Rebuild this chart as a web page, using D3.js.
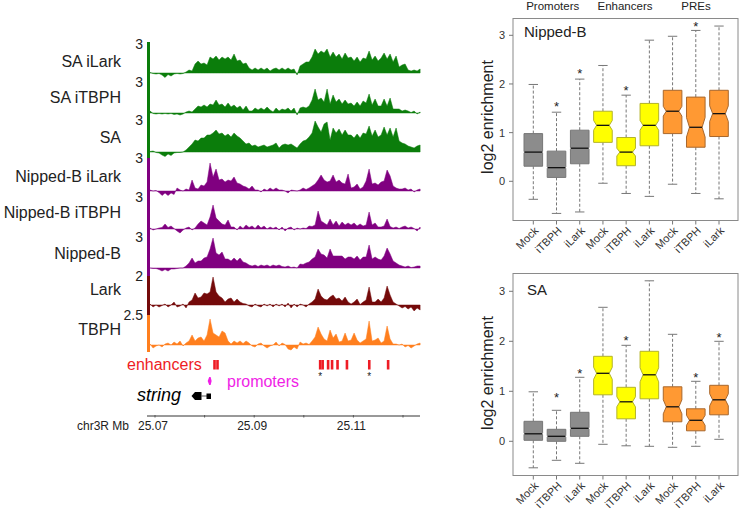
<!DOCTYPE html>
<html><head><meta charset="utf-8">
<script src="https://cdn.jsdelivr.net/npm/d3@7"></script>
<style>html,body{margin:0;padding:0;background:#fff}svg{display:block}text{font-family:"Liberation Sans",Arial,sans-serif}</style>
</head><body><svg id="c" width="741" height="511"></svg>
<script>
const trackNames=["SA iLark","SA iTBPH","SA","Nipped-B iLark","Nipped-B iTBPH","Nipped-B","Lark","TBPH"];
const trackMax=["3","3","3","3","3","3","2","2.5"];
const saILark=[.05,-.05,-.1,-.05,-.2,-.45,-.15,-.3,-.1,-.05,-.1,-.05,.1,.3,.2,.9,1.2,.9,1,.8,1.6,1.4,1.7,1.3,1.6,1.4,1.6,1.3,1.9,1.2,1.3,.9,1,.5,.3,.5,.3,.5,.3,.5,.2,.4,.5,.3,.5,.3,.5,.3,.4,-.2,.7,.9,1.1,1.1,1.6,2.4,1.9,2.2,2,2.4,1.6,2.1,1.6,1.9,1.4,2,1.5,1.6,1.2,1.6,1.1,1.5,1.4,2.2,1.3,1.7,1.2,1.5,2,1.4,1.9,1.1,1.7,.6,.8,.9,.3,.2,.3,.2,.4];
const saITBPH=[.2,-.05,-.1,-.05,-.1,-.05,-.1,-.05,-.15,-.1,-.2,-.1,.1,.2,.1,.4,.7,.6,.8,.6,.9,.8,1.3,.8,.9,.6,1,.6,.8,.5,.7,.3,.7,.2,.2,.5,.3,.5,.3,.6,.3,.1,.5,.2,.4,.3,.5,.2,.5,-.2,.5,.6,.5,.7,1.3,2.4,1.3,1.5,1.1,2.4,.9,1.8,1.1,1.4,.9,1.3,.9,1,.7,1.1,.7,1.2,1,1.9,.8,1.4,.7,.7,1.4,.7,1.5,.4,.4,.4,.2,.3,.2,.05,.2,-.1,.1];
const saAll=[.05,.1,-.05,-.1,-.3,-.45,-.2,-.35,-.1,-.05,-.05,0,.2,.5,.8,1.2,1.1,1.4,1.4,1.7,1.7,1.9,2.2,1.8,1.9,1.6,1.8,1.5,1.9,1.6,1.4,1.1,.8,.9,.6,.7,.5,.6,.7,.5,.6,.7,.9,.4,.7,.8,.7,.8,.6,.4,.8,1.1,1.2,1.5,1.9,3.1,2.5,2,2.8,3,1.2,2.4,1.9,2.3,1.7,2.2,1.7,1.7,1.4,1.8,1.4,1.9,1.8,2.6,1.6,2.2,1.5,1.7,2.5,1.7,2.4,1.5,2.4,1.1,.9,.8,.6,.5,.4,.6,.7];
const nipILark=[.1,0,.05,-.15,-.45,-.2,-.45,-.2,-.35,.3,.1,0,.2,.1,1.1,.3,.2,.6,.5,.9,2.8,1.4,2.2,1.1,1.2,.9,1.1,1,1.4,.8,.7,.5,.4,.2,.5,.1,.1,-.1,.2,.05,.3,.1,.3,.1,.1,0,-.2,.1,.05,0,.1,.3,.15,.3,.5,.7,1.1,1.6,1.1,.9,1,1.6,.9,1.1,.8,.7,1.7,.3,.4,.7,.2,.4,1,2.2,.7,.8,.6,.9,1,2.1,1.5,.5,.3,.2,.2,.3,.1,.2,-.1,.1,.2];
const nipITBPH=[.1,-.1,0,.1,.15,.5,.15,.3,.05,-.2,-.4,-.1,.1,.2,-.1,.1,.5,.8,.6,.4,1.2,2.4,1.1,.8,.5,.4,.9,.2,.2,-.1,.3,.05,.4,.15,.3,.05,.4,.1,.3,0,.2,.05,.2,-.1,.2,-.2,.1,.2,-.1,.1,0,.1,.05,.3,.25,.4,1.8,.8,.6,.4,1,.4,.8,.3,.7,.4,.6,.4,.6,.3,.5,.3,.4,1.7,.4,.6,.2,.2,.3,1,.25,.1,.2,.05,.2,.3,.1,.2,.05,-.2,.2];
const nipAll=[0,-.05,-.05,-.15,-.3,-.15,-.3,-.1,-.1,-.05,0,0,.2,.5,1,.5,.7,.7,1,1.1,1.9,3,1.5,1.3,1.6,.9,.9,.7,1,.7,1,.6,.5,.3,.2,.3,.15,.3,.2,.3,.15,.3,.2,.3,.15,.1,.2,.05,.1,0,.4,.35,.5,.6,.9,1.1,1.9,1.4,1.3,1,1.9,1.2,1.2,1.2,1.2,.9,1.1,1.1,.9,1.2,.8,1.1,1.1,2.3,.9,1.1,.9,.8,1.2,2,1.4,.7,.5,.3,.2,.1,.2,.05,.1,.2,.2];
const larkTrack=[.1,-.2,0,-.2,-.05,.1,-.2,0,.3,-.2,-.1,.1,-.3,.3,.5,1.2,.7,.8,1.2,1.1,1.3,2.8,1.3,.9,.7,.3,.6,.7,.3,.6,.3,.15,.1,-.1,-.2,.1,-.1,-.2,.1,-.1,.1,-.2,.1,-.1,.1,-.2,.2,-.3,.1,-.2,.1,0,-.2,.1,.3,.6,1.6,.9,.6,.5,.8,1,.6,.7,.4,.8,.3,.1,.3,.6,.05,.3,.5,1.8,.3,.3,.6,.3,.7,1.9,1,.3,.1,-.1,-.3,-.15,-.4,-.2,-.6,-.3,-.5];
const tbphTrack=[.1,-.3,-.1,0,-.2,.1,.2,0,.3,.1,.4,-.1,.2,.4,1,.4,.7,.8,.4,1,2.6,1.2,1,.8,1.4,1.2,.4,.1,.4,.2,.4,.15,.4,.2,-.1,-.2,.1,.2,-.1,-.3,-.1,0,.3,-.1,.2,.05,-.4,-.5,-.2,-.4,.3,.1,.2,.05,.4,.8,1.8,1.1,.6,.4,1.5,.7,1.1,.3,.4,1.2,.4,.5,1.2,.5,.2,.4,.6,2.4,.4,.5,.7,.2,.4,1.9,.6,.1,.1,0,.1,-.2,-.05,-.3,-.1,.1,.2];
const trackSignals=[saILark,saITBPH,saAll,nipILark,nipITBPH,nipAll,larkTrack,tbphTrack];
const trackColors=["#0b7d0b","#0b7d0b","#0b7d0b","#800080","#800080","#800080","#740a0a","#ff7f1e"];
const enhancerMb=[25.0820,25.0826,25.1033,25.1038,25.1049,25.1057,25.1068,25.1087,25.1132,25.1170];
const starredEnhancerMb=[25.1033,25.1132];
const axisTickMb=[25.07,25.08,25.09,25.10,25.11,25.12];
const axisLabelMb=[25.07,25.09,25.11];

const boxCats=["Mock","iTBPH","iLark","Mock","iTBPH","iLark","Mock","iTBPH","iLark"];
const boxColors=["#8c8c8c","#8c8c8c","#8c8c8c","#ffff00","#ffff00","#ffff00","#ff9933","#ff9933","#ff9933"];
const boxStrokes=["#777","#777","#777","#b3b32a","#b3b32a","#b3b32a","#a8672c","#a8672c","#a8672c"];
const nipLow=[-.37,-.66,-.63,-.04,-.25,-.31,-.06,-.25,-.36];
const nipQ1=[.31,.08,.36,.8,.32,.73,.98,.7,.92];
const nipMed=[.6,.28,.68,1.15,.6,1.15,1.44,1.11,1.39];
const nipQ3=[.98,.62,1.05,1.44,.9,1.6,1.87,1.73,1.87];
const nipHigh=[1.99,1.42,2.1,2.38,1.77,2.9,2.98,3.1,3.19];
const nipNotch=[.02,.02,.02,.1,.08,.1,.1,.2,.16];
const nipStars=[null,1.59,2.27,null,1.93,null,null,3.24,null];
const saLow=[-.53,-.38,-.44,-.06,-.09,-.1,-.12,-.1,.04];
const saQ1=[.02,0,.1,.93,.45,.85,.39,.21,.53];
const saMed=[.15,.1,.26,1.36,.79,1.33,.69,.42,.83];
const saQ3=[.4,.24,.58,1.7,1.08,1.8,1.09,.65,1.12];
const saHigh=[.99,.62,1.28,2.68,1.92,3.21,2.14,1.2,2];
const saNotch=[.02,.02,.02,.12,.1,.14,.14,.1,.12];
const saStars=[null,.92,1.41,null,2.06,null,null,1.32,2.13];
const yTicks=[0,1,2,3];
const groupHeads=["Promoters","Enhancers","PREs"];

const svg=d3.select("#c");
const txt="#222";
const xMb=d3.scaleLinear().domain([25.07,25.12]).range([155,403]);
const binMb=0.000605, startMb=25.069;
const baselines=[73,113,152,191,229,268,305,345];
const labelY=[61,97,137,176,212,253,289,329];
const maxY=[44,82,120,158,197,237,276,315];
const barEnds=[[42,158],[158,276],[276,315],[315,352]];
const barCols=["#0b7d0b","#800080","#740a0a","#ff7f1e"];
trackSignals.forEach((vals,t)=>{
  const y=d3.scaleLinear().domain([0,3]).range([baselines[t],baselines[t]-30]);
  const area=d3.area().x((d,i)=>xMb(startMb+i*binMb)).y0(y(0)).y1(d=>y(d));
  svg.append("path").attr("d",area(vals)).attr("fill",trackColors[t]).attr("stroke",trackColors[t]).attr("stroke-width",.5);
  svg.append("text").attr("x",121).attr("y",labelY[t]).attr("dy",".36em").attr("text-anchor","end").attr("font-size",16).attr("fill",txt).text(trackNames[t]);
  svg.append("text").attr("x",143).attr("y",maxY[t]).attr("dy",".36em").attr("text-anchor","end").attr("font-size",14).attr("fill",txt).text(trackMax[t]);
});
barEnds.forEach((e,i)=>svg.append("rect").attr("x",147).attr("width",3).attr("y",e[0]).attr("height",e[1]-e[0]).attr("fill",barCols[i]));
svg.selectAll("rect.enh").data(enhancerMb).join("rect").attr("class","enh").attr("x",d=>xMb(d)-1.3).attr("width",2.6).attr("y",360).attr("height",9.5).attr("fill","#ee1c25");
svg.selectAll("text.es").data(starredEnhancerMb).join("text").attr("class","es").attr("x",d=>xMb(d)).attr("y",380).attr("text-anchor","middle").attr("font-size",10).attr("fill",txt).text("*");
svg.append("text").attr("x",127).attr("y",364).attr("dy",".36em").attr("font-size",16).attr("fill","#ee1c25").text("enhancers");
svg.append("text").attr("x",227).attr("y",381).attr("dy",".36em").attr("font-size",16).attr("fill","#f01ee6").text("promoters");
svg.append("path").attr("d",d3.line()([[209.2,377],[207.7,381],[209.2,385],[210.6,385],[211.6,381],[210.6,377]])+"Z").attr("fill","#f01ee6");
svg.append("text").attr("x",137).attr("y",395).attr("dy",".36em").attr("font-size",18).attr("font-style","italic").attr("fill","#000").text("string");
svg.append("path").attr("d","M191.5 396L195 392H201.5V400H195Z").attr("fill","#000");
svg.append("line").attr("x1",201).attr("x2",207).attr("y1",396).attr("y2",396).attr("stroke","#555");
svg.append("rect").attr("x",206.5).attr("y",393.5).attr("width",4.5).attr("height",5.5).attr("fill","#000");
svg.append("line").attr("x1",147).attr("x2",420).attr("y1",416).attr("y2",416).attr("stroke","#333");
svg.selectAll("line.mt").data(axisTickMb).join("line").attr("class","mt").attr("x1",d=>xMb(d)).attr("x2",d=>xMb(d)).attr("y1",415).attr("y2",417.5).attr("stroke","#555");
svg.selectAll("text.ml").data(axisLabelMb).join("text").attr("class","ml").attr("x",d=>xMb(d)-2).attr("y",426).attr("dy",".36em").attr("text-anchor","middle").attr("font-size",12).attr("fill",txt).text(d=>d3.format(".2f")(d));
svg.append("text").attr("x",77).attr("y",426).attr("dy",".36em").attr("font-size",12).attr("fill",txt).text("chr3R Mb");

function panel(o){
  const x=d3.scalePoint().domain(d3.range(9)).range([533.3,719]);
  const y=d3.scaleLinear().domain([0,3]).range([o.y0,o.y3]);
  const g=svg.append("g");
  const w=9.3, nd=3;
  d3.range(9).forEach(i=>{
    const cx=x(i);
    g.append("line").attr("x1",cx).attr("x2",cx).attr("y1",y(o.q3[i])).attr("y2",y(o.high[i])).attr("stroke","#777").attr("stroke-dasharray","3,2");
    g.append("line").attr("x1",cx).attr("x2",cx).attr("y1",y(o.q1[i])).attr("y2",y(o.low[i])).attr("stroke","#777").attr("stroke-dasharray","3,2");
    [o.high[i],o.low[i]].forEach(v=>g.append("line").attr("x1",cx-4.7).attr("x2",cx+4.7).attr("y1",y(v)).attr("y2",y(v)).attr("stroke","#777"));
    const n=o.notch[i], d=n<.05?0.6:nd, m=o.med[i];
    const pts=[[cx-w,y(o.q3[i])],[cx+w,y(o.q3[i])],[cx+w,y(m+n)],[cx+w-d,y(m)],[cx+w,y(m-n)],[cx+w,y(o.q1[i])],[cx-w,y(o.q1[i])],[cx-w,y(m-n)],[cx-w+d,y(m)],[cx-w,y(m+n)]];
    g.append("path").attr("d",d3.line()(pts)+"Z").attr("fill",boxColors[i]).attr("stroke",boxStrokes[i]).attr("stroke-width",1);
    g.append("line").attr("x1",cx-w+d).attr("x2",cx+w-d).attr("y1",y(m)).attr("y2",y(m)).attr("stroke","#111").attr("stroke-width",1.3);
    if(o.stars[i]!==null) g.append("text").attr("x",cx).attr("y",y(o.stars[i])).attr("dy",".55em").attr("text-anchor","middle").attr("font-size",13).attr("fill",txt).text("*");
    g.append("line").attr("x1",cx).attr("x2",cx).attr("y1",o.bot).attr("y2",o.bot+4).attr("stroke","#777");
    g.append("text").attr("transform",`translate(${cx+3},${o.bot+8}) rotate(-45)`).attr("text-anchor","end").attr("dy",".36em").attr("font-size",11).attr("fill","#333").text(boxCats[i]);
  });
  g.append("rect").attr("x",513).attr("y",o.top).attr("width",225).attr("height",o.bot-o.top).attr("fill","none").attr("stroke","#8a8a8a");
  yTicks.forEach(t=>{
    g.append("line").attr("x1",509).attr("x2",513).attr("y1",y(t)).attr("y2",y(t)).attr("stroke","#777");
    g.append("text").attr("x",505).attr("y",y(t)).attr("dy",".36em").attr("text-anchor","end").attr("font-size",11).attr("fill","#333").text(t);
  });
  g.append("text").attr("transform",`translate(487,${o.labY}) rotate(-90)`).attr("dy",".36em").attr("text-anchor","middle").attr("font-size",16).attr("fill",txt).text("log2 enrichment");
  g.append("text").attr("x",o.tx).attr("y",o.ty).attr("dy",".36em").attr("font-size",15).attr("fill",txt).text(o.title);
}
panel({title:"Nipped-B",tx:524,ty:32,top:18.5,bot:220.5,y0:181.3,y3:35.3,labY:117,low:nipLow,q1:nipQ1,med:nipMed,q3:nipQ3,high:nipHigh,notch:nipNotch,stars:nipStars});
panel({title:"SA",tx:527,ty:290,top:273.5,bot:475.5,y0:441.3,y3:291.3,labY:373,low:saLow,q1:saQ1,med:saMed,q3:saQ3,high:saHigh,notch:saNotch,stars:saStars});
const headX=[552.7,625,696];
groupHeads.forEach((h,i)=>svg.append("text").attr("x",headX[i]).attr("y",6).attr("dy",".36em").attr("text-anchor","middle").attr("font-size",11.5).attr("fill",txt).text(h));
</script></body></html>
